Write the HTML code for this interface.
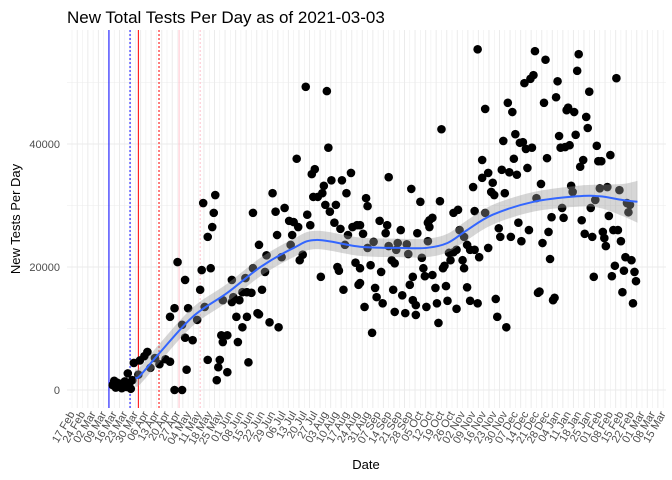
<!DOCTYPE html>
<html><head><meta charset="utf-8"><style>
body{margin:0;background:#fff;}
svg{display:block;font-family:"Liberation Sans",sans-serif;}
</style></head><body>
<svg id="chart" width="672" height="480" viewBox="0 0 672 480" xmlns="http://www.w3.org/2000/svg">
<text x="67" y="23" font-size="17" fill="#000">New Total Tests Per Day as of 2021-03-03</text>
<g id="grid"></g>
<g id="vlines"></g>
<g id="points"></g>
<g id="smooth"></g>
<g id="axes"></g>
<text transform="translate(20,219) rotate(-90)" text-anchor="middle" font-size="13" fill="#000">New Tests Per Day</text>
<text x="366" y="469" text-anchor="middle" font-size="13" fill="#000">Date</text>
</svg>
<script>
// day offsets from 2020-02-17
const pointDays=[27,28,29,30,31,32,33,34,35,36,37,38,39,40,41,45,48,52,55,58,62,65,44,50,
68,73,70,65,68,75,77,73,75,80,76,85,86,87,90,93,94,95,92,83,88,90,96,97,98,103,99,100,103,100,106,107,111,110,113,109,116,117,106,113,116,119,115,120,120,124,126,123,124,128,129,131,137,133,135,136,139,141,144,147,146,145,150,151,153,149,155,156,158,159,161,160,163,166,167,165,168,169,170,171,172,174,175,176,177,179,178,180,181,182,183,185,186,188,189,190,191,
191,193,191,194,195,196,199,196,198,200,201,202,205,204,206,208,209,210,210,212,213,214,214,216,215,218,219,221,222,223,225,224,226,226,228,228,229,231,232,233,234,235,236,237,237,239,236,239,241,242,243,244,245,246,247,248,249,250,251,253,253,255,256,255,259,257,260,260,262,262,264,264,266,267,267,269,269,270,272,272,274,274,276,276,278,279,280,281,282,283,284,285,286,287,288,289,290,291,292,293,294,295,296,297,298,299,300,301,302,303,304,305,306,307,308,309,310,311,312,313,314,315,316,317,318,319,320,321,322,323,324,325,326,327,328,329,330,331,332,333,334,335,336,337,338,339,340,341,342,343,344,345,346,347,348,349,350,351,352,353,354,355,356,357,358,359,360,361,362,363,364,365,366,367,368,369,370,371,372,373,374];
const pointValues=[800,1500,400,1200,600,1000,300,900,1400,500,2700,1100,200,1600,4400,4800,5500,3600,5200,4200,5000,4600,2500,6200,
0,0,20800,11900,13300,17900,13300,10600,8500,8100,3300,16300,19500,30400,24900,26500,28800,31700,19800,11400,13500,4900,1600,3700,4900,2900,8900,7800,8900,14600,14300,15100,14600,7800,10200,11900,11900,4500,17900,15900,15900,15800,18200,28800,19800,23600,16300,12500,12300,19200,21900,11000,10200,32000,29000,25200,21600,29600,27500,27300,25200,23600,26500,21100,22000,37600,49300,28500,26800,35100,35900,31400,31400,32000,33200,18400,30100,48600,39400,29000,34100,27200,30100,20000,19400,34100,26200,16300,23600,32000,25200,35300,26500,20700,26800,17100,19800,
26800,25400,17400,13500,31200,29900,9300,23100,20300,24100,16600,15100,19200,27500,14100,25500,26800,34600,23400,21100,16300,20600,12700,23900,22800,26000,15400,12500,23700,22100,32700,17100,18400,14600,13800,12200,25500,30600,21500,19800,18500,13500,27200,27600,26500,28000,24200,18700,16600,14100,10900,30700,42400,19800,20200,16900,14500,22300,21100,28800,22400,13200,29300,22800,21100,26000,19800,24900,16700,23600,14500,22800,33000,29100,22800,14100,55400,21600,37400,34500,28800,45700,35300,23100,32200,33700,31700,14800,11900,26300,24900,35800,40500,32000,10200,46700,35400,24900,45200,37600,41600,35000,27200,40200,24200,40300,49900,39200,36100,26000,50600,39400,51200,55100,31200,15800,16000,33500,23900,46700,53700,37700,25700,21300,28100,14600,15000,47600,50200,41300,39400,29600,28000,39500,45500,45900,39800,33200,32200,45200,41500,51900,54600,36300,27600,37400,25400,44400,42600,48500,29600,24900,18400,30900,39700,37200,32800,37200,25700,24700,23400,33000,28300,38200,18500,26000,20200,50700,26000,32500,24200,15900,19400,21600,30400,28900,30100,21100,14100,19200,17700];
const smoothDays=[42,45,58,80,103,125,147,162,191,217,235,249,262,279,306,335,350,365,375];
const smoothValues=[2000,2300,6000,11900,15800,20000,23100,24400,23300,23100,23100,23900,26000,28500,30600,31500,31500,30900,30600];
const smoothSE=[1400,1400,1500,1500,1500,1500,1500,1500,1500,1500,1500,1500,1600,1600,1600,1700,1900,2600,3400];
const refLineDays=[24.5,38.5,44,57.7,71,85];
const refLineColors=['#0000ff','#0000ff','#ff0000','#ff0000','#ffc0cb','#ffc0cb'];
const refLineDash=['','2,2','','2,2','','2,2'];
const yTicks=[0,20000,40000];
const yMinor=[10000,30000,50000];
const xTickLabels=['17 Feb','24 Feb','02 Mar','09 Mar','16 Mar','23 Mar','30 Mar','06 Apr','13 Apr','20 Apr','27 Apr','04 May','11 May','18 May','25 May','01 Jun','08 Jun','15 Jun','22 Jun','29 Jun','06 Jul','13 Jul','20 Jul','27 Jul','03 Aug','10 Aug','17 Aug','24 Aug','31 Aug','07 Sep','14 Sep','21 Sep','28 Sep','05 Oct','12 Oct','19 Oct','26 Oct','02 Nov','09 Nov','16 Nov','23 Nov','30 Nov','07 Dec','14 Dec','21 Dec','28 Dec','04 Jan','11 Jan','18 Jan','25 Jan','01 Feb','08 Feb','15 Feb','22 Feb','01 Mar','08 Mar','15 Mar'];

const NS='http://www.w3.org/2000/svg';
const PX0=67,PX1=666,PY0=30,PY1=408;
function xs(d){return 72+d*1.508;}
function ys(v){return 390-v*123/20000;}
function mk(tag,attrs,parent){const e=document.createElementNS(NS,tag);for(const k in attrs)e.setAttribute(k,attrs[k]);parent.appendChild(e);return e;}
function curve(p,move){
  let s=(move?'M':'L')+p[0][0]+','+p[0][1];
  for(let i=0;i<p.length-1;i++){
    const p0=p[Math.max(i-1,0)],p1=p[i],p2=p[i+1],p3=p[Math.min(i+2,p.length-1)];
    const c1x=p1[0]+(p2[0]-p0[0])/6,c1y=p1[1]+(p2[1]-p0[1])/6;
    const c2x=p2[0]-(p3[0]-p1[0])/6,c2y=p2[1]-(p3[1]-p1[1])/6;
    s+='C'+c1x+','+c1y+' '+c2x+','+c2y+' '+p2[0]+','+p2[1];
  }
  return s;
}
const grid=document.getElementById('grid');
mk('rect',{x:PX0,y:PY0,width:PX1-PX0,height:PY1-PY0,fill:'#fff'},grid);
for(let i=0;i<xTickLabels.length*2;i++){
  const x=xs(i*3.5-3.5);
  if(x<PX0||x>PX1)continue;
  const l=mk('line',{x1:x,x2:x,y1:PY0,y2:PY1,stroke:'#ebebeb','stroke-width':i%2?0.5:1},grid);
  
  
}
yMinor.forEach(v=>{const l=mk('line',{x1:PX0,x2:PX1,y1:ys(v),y2:ys(v),stroke:'#ebebeb','stroke-width':0.6},grid);
  
  });
yTicks.forEach(v=>{const l=mk('line',{x1:PX0,x2:PX1,y1:ys(v),y2:ys(v),stroke:'#ebebeb','stroke-width':1.1},grid);
  
  });
const vl=document.getElementById('vlines');
refLineDays.forEach((d,i)=>{const a={x1:xs(d),x2:xs(d),y1:PY0,y2:PY1,stroke:refLineColors[i],'stroke-width':1};
  if(refLineDash[i])a['stroke-dasharray']=refLineDash[i];
  const l=mk('line',a,vl);
  
  });
const pts=document.getElementById('points');
pointDays.forEach((d,i)=>{const c=mk('circle',{cx:xs(d),cy:ys(pointValues[i]),r:4.3,fill:'#000'},pts);
  
  });
const sm=document.getElementById('smooth');
const upP=smoothDays.map((d,i)=>[xs(d),ys(smoothValues[i]+smoothSE[i])]);
const dnP=smoothDays.map((d,i)=>[xs(d),ys(smoothValues[i]-smoothSE[i])]).reverse();
const lnP=smoothDays.map((d,i)=>[xs(d),ys(smoothValues[i])]);
const rib=mk('path',{d:curve(upP,true)+curve(dnP,false)+'Z',fill:'rgba(153,153,153,0.4)',stroke:'none'},sm);


const sl=mk('path',{d:curve(lnP,true),fill:'none',stroke:'#3366ff','stroke-width':2},sm);


const ax=document.getElementById('axes');
yTicks.forEach(v=>{const t=mk('text',{x:60,y:ys(v)+4,'text-anchor':'end','font-size':11,fill:'#4d4d4d'},ax);t.textContent=v;
  
  });
xTickLabels.forEach((s,i)=>{const x=xs(i*7);const t=mk('text',{transform:'translate('+(x+3)+',414) rotate(-60)','text-anchor':'end','font-size':11,fill:'#4d4d4d'},ax);t.textContent=s;
  
  });
</script>
</body></html>
